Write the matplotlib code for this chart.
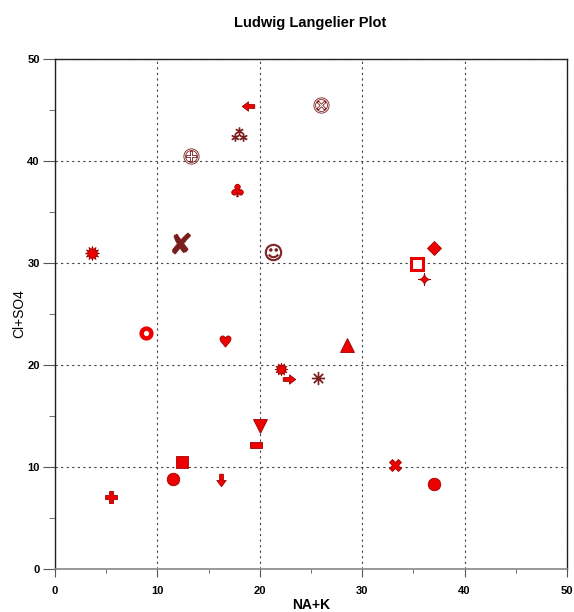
import numpy as np
import matplotlib
matplotlib.use("Agg")
import matplotlib.pyplot as plt
from matplotlib.ticker import MultipleLocator

plt.rcParams['font.family'] = ['Liberation Sans', 'DejaVu Sans']

# sample values (meq %)
na_k = [18.8, 26.0, 18.0, 13.3, 17.8, 3.6, 12.3, 21.3,
        16.6, 28.5, 22.1, 22.9, 25.7, 20.0, 19.6, 12.4, 16.2,
        37.0, 35.4, 36.0, 33.2, 37.0, 8.9, 11.5, 5.5]
cl_so4 = [45.4, 45.5, 42.6, 40.5, 37.2, 31.0, 32.0, 31.1,
          22.4, 22.0, 19.6, 18.6, 18.7, 14.0, 12.2, 10.5, 8.7,
          31.5, 29.9, 28.4, 10.2, 8.3, 23.1, 8.8, 7.1]

RED = '#ee0000'
EDGE = '#a00000'
BROWN = '#7a1c1c'

larrow = [(-1, 0), (0, 0.75), (0, 0.3), (1, 0.3), (1, -0.3), (0, -0.3), (0, -0.75), (-1, 0)]
rarrow = [(-x, y) for x, y in larrow]
darrow = [(y, x) for x, y in larrow]
pill = [(-1, 0.45), (1, 0.45), (1, -0.45), (-1, -0.45), (-1, 0.45)]

# (marker, size, face, edge, edge width)
styles = [
    (larrow, 9, RED, EDGE, 0.6),
    ('$\u2297$', 11, 'none', BROWN, 0.6),
    ('$\u2042$', 11, BROWN, BROWN, 0.6),
    ('$\u2295$', 11, 'none', BROWN, 0.6),
    ('$\u2663$', 9, RED, EDGE, 0.6),
    ('$\u2739$', 10, RED, EDGE, 0.6),
    ('$\u2718$', 15, BROWN, BROWN, 0.6),
    ('$\u263a$', 12, BROWN, BROWN, 0.6),
    ('$\u2665$', 8, RED, EDGE, 0.6),
    ('^', 10, RED, EDGE, 0.6),
    ('$\u2739$', 9, RED, EDGE, 0.6),
    (rarrow, 9, RED, EDGE, 0.6),
    ('$\u2733$', 9, BROWN, BROWN, 0.6),
    ('v', 10, RED, EDGE, 0.6),
    (pill, 9, RED, EDGE, 0.6),
    ('s', 9, RED, EDGE, 0.6),
    (darrow, 9, RED, EDGE, 0.6),
    ('D', 7, RED, EDGE, 0.6),
    ('s', 8, 'white', RED, 2.2),
    ('$\u2726$', 9, RED, EDGE, 0.6),
    ('X', 9, RED, EDGE, 0.6),
    ('o', 9, RED, EDGE, 0.6),
    ('o', 7, 'white', RED, 3.2),
    ('o', 9, RED, EDGE, 0.6),
    ('P', 9, RED, EDGE, 0.6),
]

fig = plt.figure(figsize=(5.74, 6.12), dpi=100)
ax = fig.add_axes([55 / 574, 43 / 612, 512 / 574, 510 / 612])

for xv, yv, (m, ms, fc, ec, mew) in zip(na_k, cl_so4, styles):
    ax.plot(xv, yv, linestyle='none', marker=m, markersize=ms,
            markerfacecolor=fc, markeredgecolor=ec, color=ec,
            markeredgewidth=mew, zorder=3)

ax.set_xlim(0, 50)
ax.set_ylim(0, 50)
ax.xaxis.set_major_locator(MultipleLocator(10))
ax.xaxis.set_minor_locator(MultipleLocator(5))
ax.yaxis.set_major_locator(MultipleLocator(10))
ax.yaxis.set_minor_locator(MultipleLocator(5))
ax.grid(True, which='major', linestyle=(0, (2, 3)), color='#444444', linewidth=0.8)

for side in ['top', 'left', 'right']:
    ax.spines[side].set_color('#222222')
    ax.spines[side].set_linewidth(1.0)
ax.spines['bottom'].set_color('#888888')
ax.spines['bottom'].set_linewidth(1.2)

ax.tick_params(axis='x', which='major', direction='out', length=6, color='#555555', pad=6)
ax.tick_params(axis='x', which='minor', direction='out', length=3, color='#555555')
ax.tick_params(axis='y', which='major', direction='out', length=9, color='#555555', pad=2)
ax.tick_params(axis='y', which='minor', direction='out', length=4, color='#555555')
for lab in ax.get_xticklabels() + ax.get_yticklabels():
    lab.set_fontsize(8)
    lab.set_fontweight('bold')

ax.set_xlabel('NA+K', fontsize=10, fontweight='bold', labelpad=2)
ax.set_ylabel('Cl+SO4', fontsize=10, labelpad=1)
fig.text(0.54, 0.962, 'Ludwig Langelier Plot', ha='center', va='center',
         fontsize=10.5, fontweight='bold')

fig.savefig('out.png', dpi=100)
